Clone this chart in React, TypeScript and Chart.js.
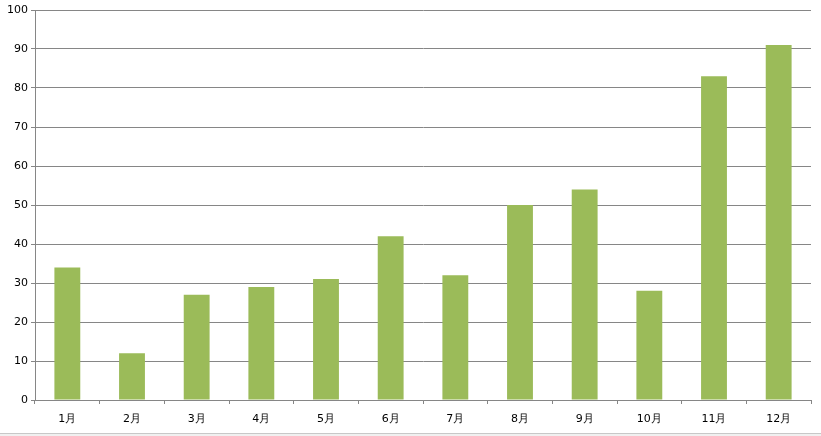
import React, { useEffect, useRef } from "react";
import { Chart, registerables } from "chart.js";

Chart.register(...registerables);

const categories = ["1月", "2月", "3月", "4月", "5月", "6月", "7月", "8月", "9月", "10月", "11月", "12月"];
const values = [34, 12, 27, 29, 31, 42, 32, 50, 54, 28, 83, 91];
const yTicks = [0, 10, 20, 30, 40, 50, 60, 70, 80, 90, 100];

export default function App() {
  const ref = useRef<HTMLCanvasElement | null>(null);
  useEffect(() => {
    document.body.style.margin = "0";
    const ctx = ref.current!.getContext("2d")!;
    const chart = new Chart(ctx, {
      type: "bar",
      data: {
        labels: categories,
        datasets: [
          {
            data: values,
            backgroundColor: "#9BBB59",
            borderColor: "#9BBB59",
            borderWidth: 0,
            categoryPercentage: 1,
            barPercentage: 0.4,
          },
        ],
      },
      options: {
        responsive: false,
        animation: false,
        layout: { padding: { top: 10, right: 10, left: 0, bottom: 0 } },
        plugins: { legend: { display: false }, tooltip: { enabled: false } },
        scales: {
          x: {
            offset: true,
            grid: {
              display: true,
              offset: true,
              drawOnChartArea: false,
              drawTicks: true,
              tickLength: 4,
              color: "#868686",
            },
            border: { display: true, color: "#868686", width: 1 },
            ticks: {
              color: "#000",
              font: { family: "DejaVu Sans", size: 11 },
              padding: 9,
              maxRotation: 0,
              autoSkip: false,
            },
            afterFit: (s: any) => {
              s.height = 33;
            },
          },
          y: {
            min: 0,
            max: 100,
            afterBuildTicks: (s: any) => {
              s.ticks = yTicks.map((v) => ({ value: v }));
            },
            grid: {
              color: "#868686",
              tickLength: 4,
              drawTicks: true,
            },
            border: { display: true, color: "#868686", width: 1 },
            ticks: {
              color: "#000",
              font: { family: "DejaVu Sans", size: 11 },
              padding: 3,
            },
            afterFit: (s: any) => {
              s.width = 35;
            },
          },
        },
      },
    });
    return () => chart.destroy();
  }, []);
  return (
    <div style={{ position: "relative", width: 821, height: 436, background: "#fff" }}>
      <canvas ref={ref} width={821} height={433} style={{ display: "block" }} />
      <div style={{ height: 3, borderTop: "1px solid #c8c8c8", background: "#f0f0f0" }} />
    </div>
  );
}
